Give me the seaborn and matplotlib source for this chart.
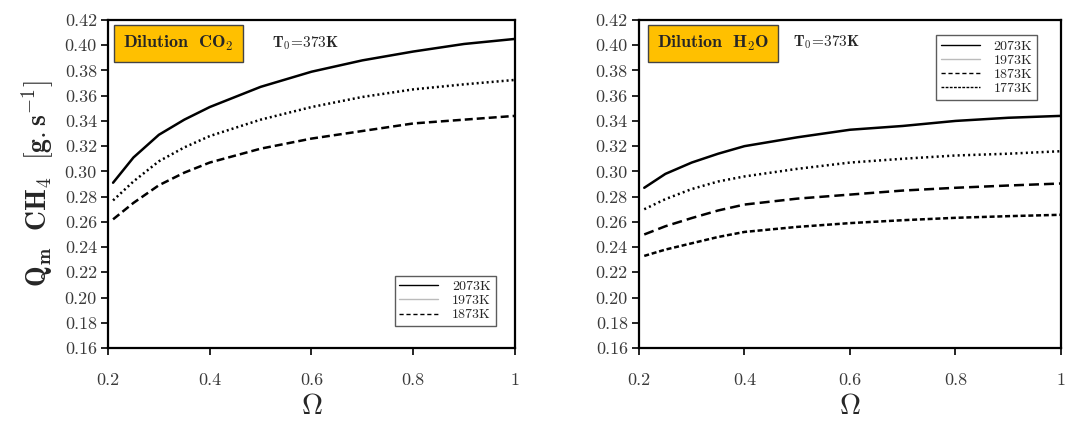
import numpy as np
import pandas as pd
import matplotlib
matplotlib.use("Agg")
import matplotlib.pyplot as plt
from matplotlib.lines import Line2D
import seaborn as sns

# valeurs
omega = [0.21, 0.25, 0.30, 0.35, 0.40, 0.50, 0.60, 0.70, 0.80, 0.90, 1.00]

co2_2073 = [0.291, 0.311, 0.329, 0.341, 0.351, 0.367, 0.379, 0.388, 0.395, 0.401, 0.405]
co2_1973 = [0.277, 0.292, 0.308, 0.319, 0.328, 0.341, 0.351, 0.359, 0.365, 0.369, 0.3725]
co2_1873 = [0.262, 0.275, 0.289, 0.299, 0.307, 0.318, 0.326, 0.332, 0.338, 0.341, 0.344]

h2o_2073 = [0.287, 0.298, 0.307, 0.314, 0.320, 0.327, 0.333, 0.336, 0.340, 0.3425, 0.344]
h2o_1973 = [0.270, 0.278, 0.286, 0.292, 0.296, 0.302, 0.307, 0.310, 0.3126, 0.314, 0.316]
h2o_1873 = [0.250, 0.2565, 0.263, 0.269, 0.2737, 0.2784, 0.2816, 0.2848, 0.287, 0.2888, 0.2904]
h2o_1773 = [0.233, 0.238, 0.243, 0.248, 0.252, 0.256, 0.259, 0.2613, 0.2632, 0.2645, 0.2656]

yticks = [0.16, 0.18, 0.20, 0.22, 0.24, 0.26, 0.28, 0.30, 0.32, 0.34, 0.36, 0.38, 0.40, 0.42]
xticks = [0.2, 0.4, 0.6, 0.8, 1.0]
xtick_labels = ["0.2", "0.4", "0.6", "0.8", "1"]

sns.set_style("white")
plt.rcParams["font.family"] = ["cmr10", "DejaVu Serif"]
plt.rcParams["mathtext.fontset"] = "cm"
plt.rcParams["axes.formatter.use_mathtext"] = True

fig = plt.figure(figsize=(10.81, 4.21), dpi=100)
ax1 = fig.add_axes([0.0999, 0.1734, 0.3765, 0.7791])
ax2 = fig.add_axes([0.5911, 0.1734, 0.3904, 0.7791])

# style des courbes
LW = 1.8
co2_styles = {
    "2073K": dict(linestyle="-", linewidth=LW),
    "1973K": dict(linestyle=(0, (0.8, 1.2)), linewidth=LW),
    "1873K": dict(linestyle=(0, (3.2, 1.6)), linewidth=LW),
}
h2o_styles = {
    "2073K": dict(linestyle="-", linewidth=LW),
    "1973K": dict(linestyle=(0, (0.8, 1.3)), linewidth=LW),
    "1873K": dict(linestyle=(0, (4.0, 2.0)), linewidth=LW),
    "1773K": dict(linestyle=(0, (2.0, 1.1)), linewidth=LW),
}

co2 = {"2073K": co2_2073, "1973K": co2_1973, "1873K": co2_1873}
h2o = {"2073K": h2o_2073, "1973K": h2o_1973, "1873K": h2o_1873, "1773K": h2o_1773}

for ax, series, sty in [(ax1, co2, co2_styles), (ax2, h2o, h2o_styles)]:
    for name, vals in series.items():
        df = pd.DataFrame({"omega": omega, "q": vals})
        sns.lineplot(data=df, x="omega", y="q", ax=ax, color="black", legend=False, **sty[name])

    ax.set_xlim(0.2, 1.0)
    ax.set_ylim(0.16, 0.42)
    ax.set_xticks(xticks)
    ax.set_xticklabels(xtick_labels)
    ax.set_yticks(yticks)
    ax.set_yticklabels([f"{v:.2f}" for v in yticks])
    ax.tick_params(axis="both", direction="out", length=5, width=1.2, labelsize=13,
                   colors="black", labelcolor="#3a3a3a", bottom=True, left=True, pad=3)
    ax.tick_params(axis="x", pad=13)
    for sp in ax.spines.values():
        sp.set_color("black")
        sp.set_linewidth(1.6)
    ax.set_xlabel(r"$\mathbf{\Omega}$", fontsize=21, labelpad=4)
    ax.set_ylabel("")

ax1.set_ylabel(r"$\mathbf{Q_m\ \ CH_4\ \ [g{.}s^{-1}]}$", fontsize=20, labelpad=6)

# étiquettes encadrées
box = dict(boxstyle="square,pad=0.5", facecolor="#FFC000", edgecolor="#444444", linewidth=1.0)
fig.text(0.165, 0.897, r"$\mathbf{Dilution\ \ CO_2}$", fontsize=13, ha="center", va="center", bbox=box)
fig.text(0.6596, 0.897, r"$\mathbf{Dilution\ \ H_2O}$", fontsize=13, ha="center", va="center", bbox=box)
fig.text(0.252, 0.897, r"$\mathbf{T_0\!=\!373K}$", fontsize=11, va="center")
fig.text(0.7336, 0.899, r"$\mathbf{T_0\!=\!373K}$", fontsize=11, va="center")

# légendes (1973K apparaît en gris clair dans l'original)
def handle(ls, lw, color="black"):
    return Line2D([0], [0], color=color, linestyle=ls, linewidth=lw)

h_left = [handle("-", 1.0), handle("-", 1.0, "#bbbbbb"), handle((0, (3, 2)), 1.0)]
ax1.legend(h_left, ["2073K", "1973K", "1873K"], loc="lower right", bbox_to_anchor=(0.97, 0.045),
           fontsize=10, frameon=True, fancybox=False, edgecolor="#333333", handlelength=2.8,
           borderpad=0.35, labelspacing=0.1, handletextpad=1.0)
h_right = [handle("-", 1.0), handle("-", 1.0, "#bbbbbb"), handle((0, (3, 2)), 1.0), handle((0, (2, 1)), 1.0)]
ax2.legend(h_right, ["2073K", "1973K", "1873K", "1773K"], loc="upper right", bbox_to_anchor=(0.96, 0.975),
           fontsize=10, frameon=True, fancybox=False, edgecolor="#333333", handlelength=2.8,
           borderpad=0.35, labelspacing=0.1, handletextpad=1.0)

fig.savefig("out.png", dpi=100)
